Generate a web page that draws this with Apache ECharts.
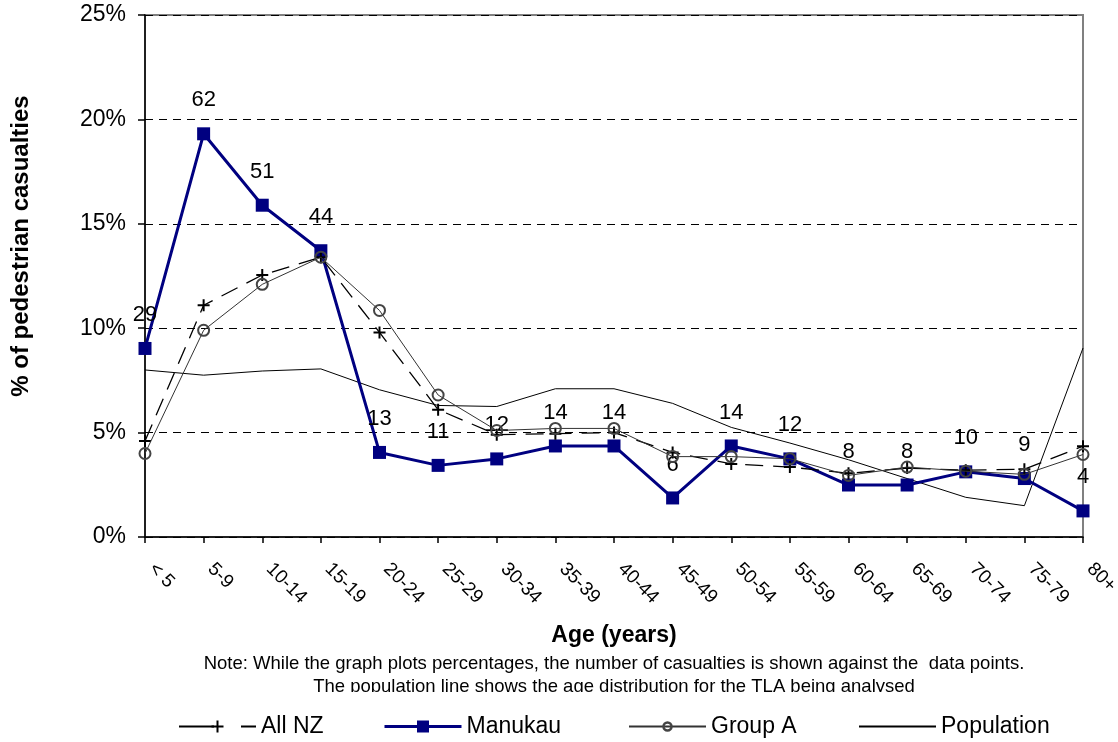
<!DOCTYPE html>
<html>
<head>
<meta charset="utf-8">
<script src="https://cdn.jsdelivr.net/npm/echarts@6/dist/echarts.min.js"></script>
<style>
html,body{margin:0;padding:0;background:#fff;}
#c{width:1118px;height:742px;}
</style>
</head>
<body>
<div id="c"></div>
<script>
const categories = ['< 5','5-9','10-14','15-19','20-24','25-29','30-34','35-39','40-44','45-49','50-54','55-59','60-64','65-69','70-74','75-79','80+'];
const manukau = [9.03,19.31,15.89,13.71,4.05,3.43,3.74,4.36,4.36,1.87,4.36,3.74,2.49,2.49,3.12,2.80,1.25];
const manukauCounts = [29,62,51,44,13,11,12,14,14,6,14,12,8,8,10,9,4];
const allNZ = [4.6,11.1,12.55,13.4,9.8,6.1,4.9,4.95,5.0,4.05,3.5,3.35,3.05,3.3,3.2,3.25,4.35];
const groupA = [4.0,9.9,12.1,13.4,10.85,6.8,5.1,5.2,5.2,3.85,3.85,3.75,2.95,3.35,3.15,3.0,3.95];
const population = [8.0,7.75,7.95,8.05,7.05,6.3,6.25,7.1,7.1,6.4,5.25,4.5,3.7,2.8,1.9,1.5,9.05];
const yTicks = [0,5,10,15,20,25];

const FONT = '"Liberation Sans", Arial, sans-serif';
const plus = 'path://M-1,-6L1,-6L1,-1L6,-1L6,1L1,1L1,6L-1,6L-1,1L-6,1L-6,-1L-1,-1Z';

function leg(name, left, h){
  return {
    left:left, top:724 - 14, height:28, itemWidth:77, itemHeight:h, itemGap:0,
    textStyle:{fontSize:23,color:'#000',fontFamily:FONT},
    data:[name]
  };
}

const chart = echarts.init(document.getElementById('c'), null, {renderer:'canvas'});
chart.setOption({
  backgroundColor:'#fff',
  animation:false,
  textStyle:{fontFamily:FONT,color:'#000'},
  grid:{left:145,right:35,top:15,bottom:205,containLabel:false,outerBoundsMode:'none',show:true,borderColor:'#808080',borderWidth:2,backgroundColor:'transparent'},
  xAxis:{
    type:'category',data:categories,boundaryGap:false,
    axisLine:{lineStyle:{color:'#000',width:1.5}},
    axisTick:{show:true,length:6,interval:0,lineStyle:{color:'#000',width:1.5}},
    axisLabel:{interval:0,rotate:-45,fontSize:19,color:'#000',margin:22,padding:[0,0,0,10],fontFamily:FONT},
    splitLine:{show:false}
  },
  yAxis:{
    type:'value',min:yTicks[0],max:yTicks[yTicks.length-1],interval:5,
    axisLine:{show:true,lineStyle:{color:'#000',width:1.5}},
    axisTick:{show:true,length:7,lineStyle:{color:'#000',width:1.5}},
    axisLabel:{formatter:'{value}%',fontSize:23,color:'#000',margin:19,fontFamily:FONT},
    splitLine:{show:true,lineStyle:{color:'#000',width:1,type:[8,6]}}
  },
  legend:[
    leg({name:'All NZ',lineStyle:{type:[35,27,15,200]}},173,15),
    leg({name:'Manukau',lineStyle:{width:3}},378,15),
    leg({name:'Group A',itemStyle:{borderWidth:2.5}},623,10),
    leg({name:'Population',itemStyle:{color:'rgba(0,0,0,0)',borderWidth:0}},853,15)
  ],
  graphic:[
    {type:'text',x:21,y:246,rotation:Math.PI/2,style:{text:'% of pedestrian casualties',font:'bold 24px '+FONT,fill:'#000',textAlign:'center',textVerticalAlign:'middle'}},
    {type:'text',x:614,y:636,style:{text:'Age (years)',font:'bold 23px '+FONT,fill:'#000',textAlign:'center',textVerticalAlign:'middle'}},
    {type:'text',x:614,y:664,style:{text:'Note: While the graph plots percentages, the number of casualties is shown against the  data points.',font:'18.5px '+FONT,fill:'#000',textAlign:'center',textVerticalAlign:'middle'}},
    {type:'text',x:614,y:687,z:1,style:{text:'The population line shows the age distribution for the TLA being analysed',font:'18.5px '+FONT,fill:'#000',textAlign:'center',textVerticalAlign:'middle'}},
    {type:'rect',z:2,shape:{x:0,y:692,width:1118,height:15},style:{fill:'#fff'}}
  ],
  series:[
    {name:'Population',type:'line',data:population,symbol:'none',z:2,
      lineStyle:{color:'#000',width:1},itemStyle:{color:'#000'}},
    {name:'Manukau',type:'line',data:manukau,symbol:'rect',symbolSize:13,z:3,
      lineStyle:{color:'#000080',width:3},itemStyle:{color:'#000080'},
      label:{show:true,position:'top',distance:16,fontSize:22,color:'#000',fontFamily:FONT,
        formatter:p=>String(manukauCounts[p.dataIndex])}},
    {name:'All NZ',type:'line',data:allNZ,symbol:plus,symbolSize:12,z:4,
      lineStyle:{color:'#000',width:1.3,type:[18,10]},itemStyle:{color:'#000'}},
    {name:'Group A',type:'line',data:groupA,symbol:'circle',symbolSize:11,z:5,
      lineStyle:{color:'#333',width:1},itemStyle:{color:'rgba(0,0,0,0)',borderColor:'#444',borderWidth:2}}
  ]
});
</script>
</body>
</html>
